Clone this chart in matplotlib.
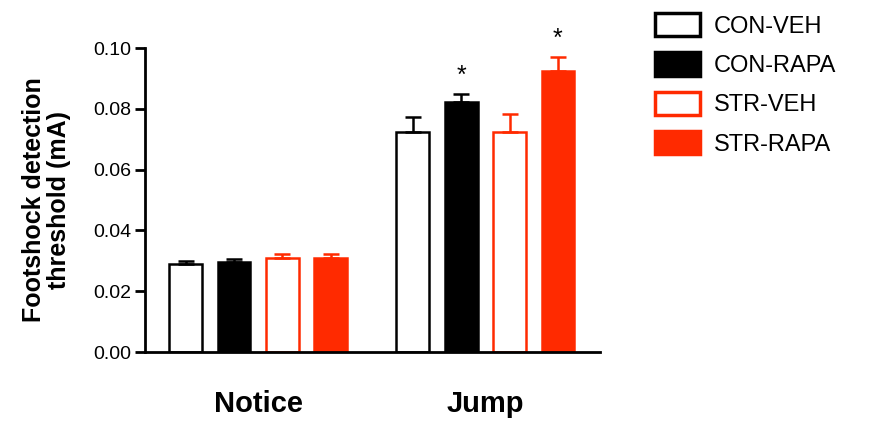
## import libraries

import numpy as np
import matplotlib
matplotlib.use("Agg")
import matplotlib.pyplot as plt
from matplotlib.patches import Patch

## data

groups = ["Notice", "Jump"]
series = ["CON-VEH", "CON-RAPA", "STR-VEH", "STR-RAPA"]
means = {
    "CON-VEH":  [0.0289, 0.0724],
    "CON-RAPA": [0.0297, 0.0822],
    "STR-VEH":  [0.0308, 0.0724],
    "STR-RAPA": [0.0308, 0.0924],
}
sems = {
    "CON-VEH":  [0.0010, 0.0050],
    "CON-RAPA": [0.0009, 0.0026],
    "STR-VEH":  [0.0016, 0.0058],
    "STR-RAPA": [0.0016, 0.0045],
}
stars = {"CON-RAPA": [False, True], "STR-RAPA": [False, True]}

RED = "#ff2a00"
face = {"CON-VEH": "white", "CON-RAPA": "black", "STR-VEH": "white", "STR-RAPA": RED}
edge = {"CON-VEH": "black", "CON-RAPA": "black", "STR-VEH": RED, "STR-RAPA": RED}

plt.rcParams["font.family"] = ["Liberation Sans", "DejaVu Sans"]

fig = plt.figure(figsize=(8.72, 4.23), dpi=100)
ax = fig.add_axes([0.1663, 0.1678, 0.5218, 0.7187])

centers = np.array([0.0, 4.7])
offsets = [-1.5, -0.5, 0.5, 1.5]
width = 0.68

for s, off in zip(series, offsets):
    x = centers + off
    ax.bar(x, means[s], width, color=face[s], edgecolor=edge[s], linewidth=1.8, zorder=2)
    ax.errorbar(x, means[s], yerr=[np.zeros(2), sems[s]], fmt="none",
                ecolor=edge[s], elinewidth=1.8, capsize=6, capthick=1.8, zorder=3)
    for i, st in enumerate(stars.get(s, [False, False])):
        if st:
            ax.text(x[i], means[s][i] + sems[s][i] + 0.002, "*", ha="center",
                    va="bottom", fontsize=18)

ax.set_xlim(-2.34, 7.07)
ax.set_ylim(0, 0.10)
ax.set_yticks(np.arange(0, 0.101, 0.02))
ax.set_yticklabels(["%.2f" % v for v in np.arange(0, 0.101, 0.02)], fontsize=14)
ax.set_xticks(centers)
ax.set_xticklabels(groups, fontsize=21, fontweight="bold")
ax.tick_params(axis="x", length=0, pad=27)
ax.tick_params(axis="y", length=7, width=2, pad=3)
ax.spines["top"].set_visible(False)
ax.spines["right"].set_visible(False)
ax.spines["left"].set_linewidth(2)
ax.spines["bottom"].set_linewidth(2)
ax.set_ylabel("Footshock detection\nthreshold (mA)", fontsize=18, fontweight="bold",
              linespacing=1.05)
ax.yaxis.set_label_coords(-0.163, 0.5)

handles = [Patch(facecolor=face[s], edgecolor=edge[s], linewidth=2.5, label=s) for s in series]
fig.legend(handles=handles, loc="upper left", bbox_to_anchor=(655 / 872, 1 - 13 / 423),
           frameon=False, fontsize=17, handlelength=1.9, handleheight=1.15,
           labelspacing=0.62, handletextpad=0.6, borderpad=0, borderaxespad=0)

fig.savefig("out.png", dpi=100)
